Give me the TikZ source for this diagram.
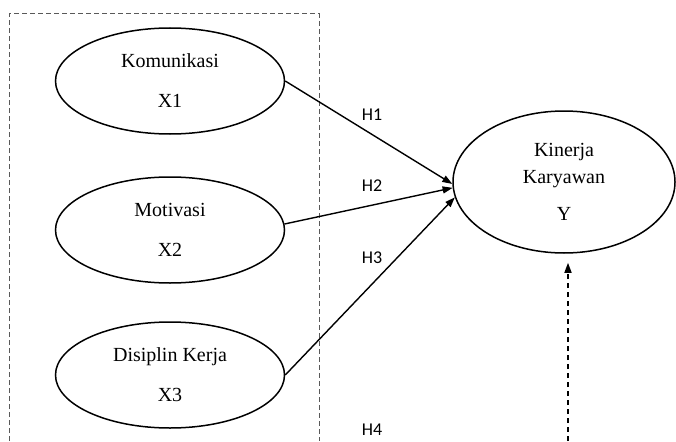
\documentclass[tikz,border=0pt]{standalone}
\usepackage{fontspec}
\setmainfont{Liberation Serif}
\newfontfamily\lblfont{Carlito}
\usetikzlibrary{arrows.meta}
\usetikzlibrary{shapes.geometric}

\begin{document}
\begin{tikzpicture}[x=1pt,y=-1pt,
	var/.style={draw,ellipse,line width=1.5pt,inner sep=0pt,minimum width=229pt,minimum height=106pt,align=center,font=\fontsize{20}{24}\selectfont},
	hyp/.style={font=\lblfont\fontsize{18}{20}\selectfont},
	path/.style={line width=1.4pt,-{Triangle[length=10pt,width=7pt]}},
	dpath/.style={line width=1.5pt,dash pattern=on 5pt off 4pt,-{Triangle[length=10pt,width=7pt]}},
	frame/.style={draw=black!65,line width=1pt,dash pattern=on 5pt off 3pt}]
	    \useasboundingbox (0,0) rectangle (676,441);

	    % independent box
	    \draw[frame] (9,441) -- (9,14) -- (319,14) -- (319,441);

	    \node[var] (kom) at (170,81) {Komunikasi\\[16pt]X1};
	    \node[var] (mot) at (170,230) {Motivasi\\[16pt]X2};
	    \node[var] (dis) at (170,375) {Disiplin Kerja\\[16pt]X3};
	    \node[var,minimum width=222pt,minimum height=142pt] (kin) at (564,182) {Kinerja\\[3pt]Karyawan\\[13pt]Y};

	    \node[hyp] (h1) at (372,115) {H1};
	    \node[hyp] (h2) at (372,186) {H2};
	    \node[hyp] (h3) at (372,258) {H3};
	    \node[hyp] (h4) at (372,430) {H4};

	    \draw[path] (kom.east) -- (kin.181);
	    \draw[path] (mot.3) -- (kin.183);
	    \draw[path] (dis.east) -- (kin.188);

	    \coordinate (yin) at (568,441);
	    \draw[dpath,shorten >=9pt] (yin) -- (yin |- kin.south);
	    \end{tikzpicture}
\end{document}
